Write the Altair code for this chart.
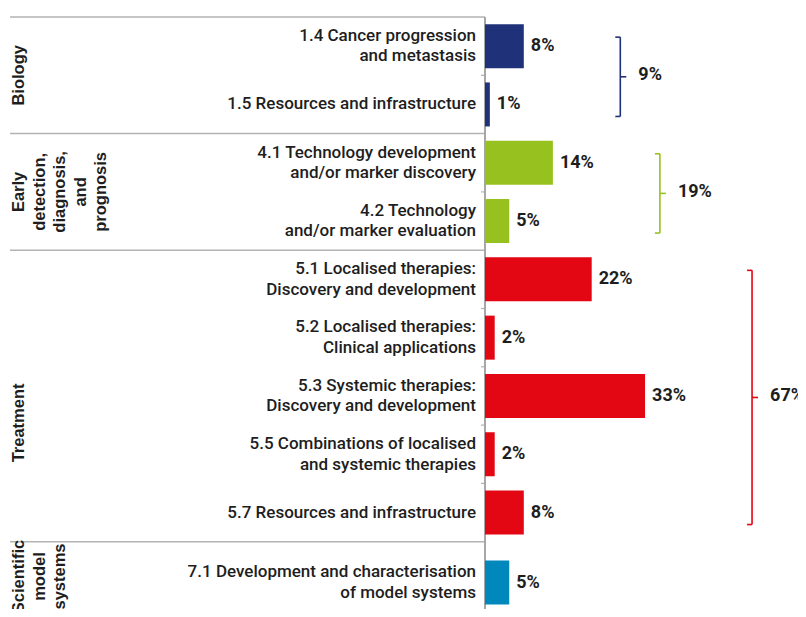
import altair as alt
import pandas as pd

# ---------------- data ----------------
groups = ["Biology", "Early detection, diagnosis, and prognosis", "Treatment", "Scientific model systems"]
group_labels = ["Biology", "Early\ndetection,\ndiagnosis,\nand\nprognosis", "Treatment", "Scientific\nmodel\nsystems"]
group_totals = [9, 19, 67, 5]
group_bracket = [True, True, True, False]

categories = [
    "1.4 Cancer progression\nand metastasis",
    "1.5 Resources and infrastructure",
    "4.1 Technology development\nand/or marker discovery",
    "4.2 Technology\nand/or marker evaluation",
    "5.1 Localised therapies:\nDiscovery and development",
    "5.2 Localised therapies:\nClinical applications",
    "5.3 Systemic therapies:\nDiscovery and development",
    "5.5 Combinations of localised\nand systemic therapies",
    "5.7 Resources and infrastructure",
    "7.1 Development and characterisation\nof model systems",
]
category_group = [0, 0, 1, 1, 2, 2, 2, 2, 2, 3]
values = [8, 1, 14, 5, 22, 2, 33, 2, 8, 5]

# ---------------- styling / layout ----------------
group_colors = ["#1f3279", "#97c11f", "#e30613", "#0088bd"]
ROW_PX = 58.3
MIN_GROUP_ROWS = 1.4
PX_PER_PCT = 4.85
PAD_LEFT = 477
PAD_TOP = 9
SVG_W = 790
SVG_H = 601
PLOT_W = SVG_W - PAD_LEFT
PLOT_H = SVG_H - PAD_TOP
GROUP_LABEL_SHIFT_PX = {"Treatment": 27, "Scientific model systems": -6}
LINE_H = 20.5
GRID = "#b3b3b3"
TEXT = "#1e1e1e"

# ---------------- derived tables ----------------
cat_rows, grp_rows, bounds, ticks = [], [], [], []
start = 0.0
for gi, g in enumerate(groups):
    idx = [i for i, cg in enumerate(category_group) if cg == gi]
    n = len(idx)
    span = max(n, MIN_GROUP_ROWS)
    step = span / n
    centers = []
    for k, i in enumerate(idx):
        c = start + step * (k + 0.5)
        centers.append(c)
        cat_rows.append({"category": categories[i], "group": g, "value": values[i],
                         "zero": 0, "center": c, "label": f"{values[i]}%",
                         "multiline": "\n" in categories[i]})
        if k > 0:
            ticks.append({"y": start + step * k})
    gmax = max(values[i] for i in idx)
    digits = len(str(gmax))
    bx = gmax + (86 + 10.5 * digits) / PX_PER_PCT
    grp_rows.append({"group": g, "glabel": group_labels[gi],
                     "gcenter": start + span / 2 + GROUP_LABEL_SHIFT_PX.get(g, 0) / ROW_PX,
                     "first": centers[0], "last": centers[-1],
                     "mid": (centers[0] + centers[-1]) / 2, "bx": bx,
                     "total": f"{group_totals[gi]}%", "bracket": group_bracket[gi]})
    bounds.append({"y": start})
    start += span
bounds.append({"y": start})

cat_df = pd.DataFrame(cat_rows)
grp_df = pd.DataFrame(grp_rows)
br_df = grp_df[grp_df["bracket"]].drop(columns=["bracket"])
grp_df = grp_df.drop(columns=["bracket"])
bounds_df = pd.DataFrame(bounds)
ticks_df = pd.DataFrame(ticks)

xs = alt.Scale(domain=[0, PLOT_W / PX_PER_PCT], nice=False, zero=False)
ys = alt.Scale(domain=[0, PLOT_H / ROW_PX], nice=False, zero=False, reverse=True)
col = alt.Color("group:N", scale=alt.Scale(domain=groups, range=group_colors), legend=None)

base = alt.Chart(cat_df)

bars = base.mark_rect(yOffset=-22, y2Offset=22).encode(
    x=alt.X("zero:Q", scale=xs, axis=None),
    x2="value:Q",
    y=alt.Y("center:Q", scale=ys, axis=None),
    y2="center:Q",
    color=col,
)

vals = base.mark_text(align="left", baseline="middle", dx=7, font="Roboto",
                      fontWeight="bold", fontSize=18, color=TEXT).encode(
    x=alt.X("value:Q", scale=xs, axis=None),
    y=alt.Y("center:Q", scale=ys, axis=None),
    text="label:N",
)

cat_style = dict(align="right", baseline="middle", dx=-9, font="Roboto",
                 fontWeight=500, fontSize=17, lineBreak="\n", lineHeight=LINE_H,
                 color=TEXT)
cat_enc = dict(
    x=alt.X("zero:Q", scale=xs, axis=None),
    y=alt.Y("center:Q", scale=ys, axis=None),
    text="category:N",
)
cats1 = base.transform_filter("!datum.multiline").mark_text(**cat_style).encode(**cat_enc)
cats2 = base.transform_filter("datum.multiline").mark_text(dy=-LINE_H / 2, **cat_style).encode(**cat_enc)

seps = alt.Chart(bounds_df).mark_rule(color=GRID, strokeWidth=1.5).encode(
    x=alt.value(-475), x2=alt.value(0),
    y=alt.Y("y:Q", scale=ys, axis=None),
)

row_ticks = alt.Chart(ticks_df).mark_rule(color=GRID, strokeWidth=1.2).encode(
    x=alt.value(-4), x2=alt.value(0),
    y=alt.Y("y:Q", scale=ys, axis=None),
)

axis_line = alt.Chart(bounds_df).mark_rule(color="#a6a6a6", strokeWidth=1.2).encode(
    x=alt.value(0), y=alt.value(0), y2=alt.value(PLOT_H),
)

glabels = alt.Chart(grp_df).mark_text(angle=270, align="center", baseline="top",
                                      lineBreak="\n", lineHeight=20.5,
                                      font="Liberation Sans", fontWeight="bold",
                                      fontSize=16.5, color=TEXT).encode(
    x=alt.value(-474),
    y=alt.Y("gcenter:Q", scale=ys, axis=None),
    text="glabel:N",
)

brb = alt.Chart(br_df)
br_vert = brb.mark_rule(strokeWidth=1.6, yOffset=-9, y2Offset=12).encode(
    x=alt.X("bx:Q", scale=xs, axis=None),
    y=alt.Y("first:Q", scale=ys, axis=None),
    y2="last:Q",
    color=col,
)
br_top = brb.mark_rule(strokeWidth=1.6, xOffset=-5, yOffset=-9).encode(
    x=alt.X("bx:Q", scale=xs, axis=None), x2="bx:Q",
    y=alt.Y("first:Q", scale=ys, axis=None),
    color=col,
)
br_bot = brb.mark_rule(strokeWidth=1.6, xOffset=-5, yOffset=12).encode(
    x=alt.X("bx:Q", scale=xs, axis=None), x2="bx:Q",
    y=alt.Y("last:Q", scale=ys, axis=None),
    color=col,
)
br_mid = brb.mark_rule(strokeWidth=1.6, x2Offset=6, yOffset=1.5).encode(
    x=alt.X("bx:Q", scale=xs, axis=None), x2="bx:Q",
    y=alt.Y("mid:Q", scale=ys, axis=None),
    color=col,
)
br_text = brb.mark_text(align="left", baseline="middle", dx=18, font="Roboto",
                        fontWeight="bold", fontSize=18, color=TEXT).encode(
    x=alt.X("bx:Q", scale=xs, axis=None),
    y=alt.Y("mid:Q", scale=ys, axis=None),
    text="total:N",
)

chart = alt.layer(
    seps, row_ticks, axis_line, bars, vals, cats1, cats2, glabels,
    br_vert, br_top, br_bot, br_mid, br_text,
).properties(
    width=PLOT_W, height=PLOT_H,
    padding={"left": PAD_LEFT, "top": PAD_TOP, "right": 0, "bottom": 0},
    autosize=alt.AutoSizeParams(type="none"),
).configure_view(stroke=None)

chart.save("out.html", embed_options={"renderer": "svg", "actions": False})
